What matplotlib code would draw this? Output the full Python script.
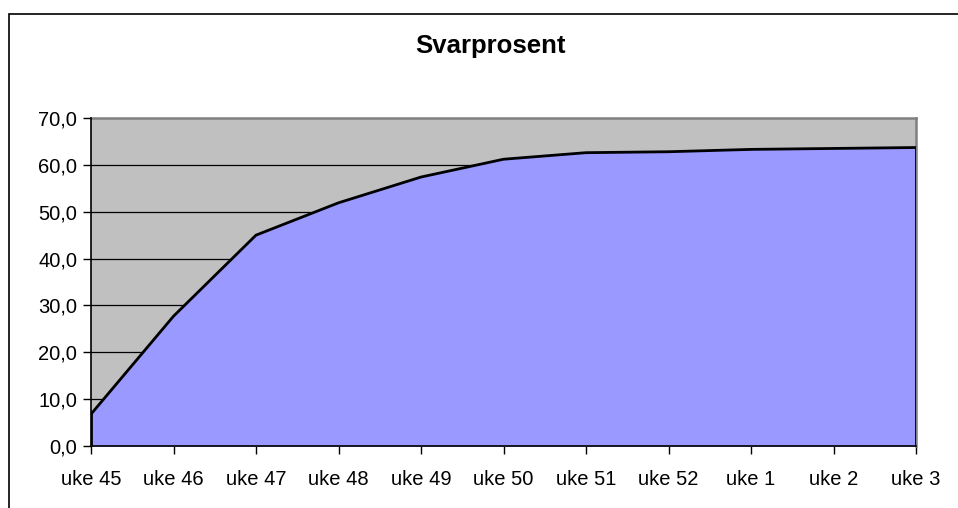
import matplotlib.pyplot as plt
from matplotlib.patches import Rectangle

# data
weeks = ["uke 45", "uke 46", "uke 47", "uke 48", "uke 49", "uke 50",
         "uke 51", "uke 52", "uke 1", "uke 2", "uke 3"]
svarprosent = [6.8, 27.7, 45.0, 51.9, 57.4, 61.2, 62.6, 62.8, 63.3, 63.5, 63.7]
yticks = [0, 10, 20, 30, 40, 50, 60, 70]
ylabels = ["0,0", "10,0", "20,0", "30,0", "40,0", "50,0", "60,0", "70,0"]

plt.rcParams['font.family'] = ['Liberation Sans', 'DejaVu Sans']

W, H = 958, 508
fig = plt.figure(figsize=(W / 100, H / 100), dpi=100)

# outer chart frame (runs off the right and bottom edge)
fig.patches.append(Rectangle((9 / W, -0.1), 1.1, (H - 14) / H + 0.1,
                             transform=fig.transFigure, fill=False,
                             edgecolor='black', linewidth=1.2))

ax = fig.add_axes([91 / W, (H - 446) / H, (916 - 91) / W, (446 - 118) / H])
ax.set_facecolor('#C0C0C0')

x = list(range(len(weeks)))
ax.fill_between(x, svarprosent, 0, color='#9999FF', zorder=2)
ax.plot(x, svarprosent, color='black', linewidth=2, zorder=3)
ax.plot([x[0], x[0]], [0, svarprosent[0]], color='black', linewidth=2, zorder=3)
ax.plot([x[-1], x[-1]], [0, svarprosent[-1]], color='black', linewidth=2, zorder=3)

for v in yticks[1:-1]:
    ax.axhline(v, color='black', linewidth=0.9, zorder=1)

ax.set_xlim(0, len(weeks) - 1)
ax.set_ylim(0, 70)
ax.set_xticks(x)
ax.set_xticklabels(weeks, fontsize=14.5)
ax.set_yticks(yticks)
ax.set_yticklabels(ylabels, fontsize=14.5)
ax.tick_params(axis='x', direction='out', length=6, width=1, pad=11)
ax.tick_params(axis='y', direction='out', length=6, width=1, pad=4)

for s in ['left', 'bottom']:
    ax.spines[s].set_color('black')
    ax.spines[s].set_linewidth(1.2)
    ax.spines[s].set_zorder(4)
for s in ['top', 'right']:
    ax.spines[s].set_color('#808080')
    ax.spines[s].set_linewidth(1.8)

fig.text(490 / W, (H - 46) / H, "Svarprosent", ha='center', va='center',
         fontsize=18.5, fontweight='bold')

fig.savefig("out.png", dpi=100)
